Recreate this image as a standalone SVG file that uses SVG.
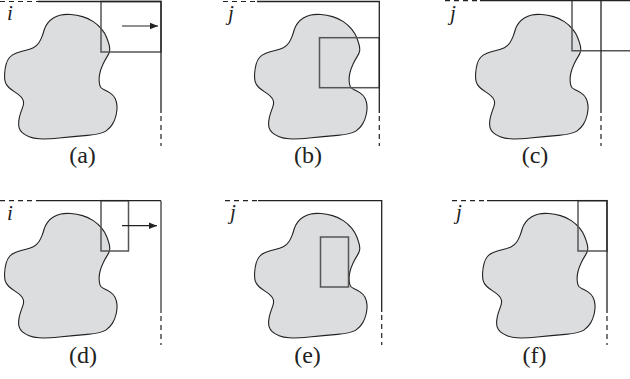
<svg xmlns="http://www.w3.org/2000/svg" xmlns:xlink="http://www.w3.org/1999/xlink" width="630" height="379" viewBox="0 0 630 379">
<style>
.blob{fill:#dcdddf;stroke:#222;stroke-width:1.1}
.frame{fill:none;stroke:#222;stroke-width:1.3}
.dash{fill:none;stroke:#222;stroke-width:1.2;stroke-dasharray:5 4}
.box{fill:none;stroke:#555;stroke-width:1.5}
.arrow{stroke:#222;stroke-width:1.2;fill:none;marker-end:url(#ah)}
text{font-family:'Liberation Serif', 'DejaVu Serif', serif;fill:#222}
.var{font-style:italic;font-size:21px}
.cap{font-size:24px;text-anchor:middle}
</style>
<defs>
<marker id="ah" markerWidth="9" markerHeight="8" refX="8.5" refY="4" orient="auto" markerUnits="userSpaceOnUse">
<path d="M0,0.5 L8.5,4 L0,7.5 Z" fill="#222"/>
</marker>
<path id="blob" class="blob" d="M44.15,30 Q45,26.7 47.5,23.35 Q50,20 53.35,18 Q56.7,16 60.85,15 Q65,14 70.85,14.5 Q76.7,15 82.5,16.65 Q88.3,18.3 93.3,21.65 Q98.3,25 101.65,29.15 Q105,33.3 106.65,37.5 Q108.3,41.7 109.15,45 Q110,48.3 109.65,50.8 Q109.3,53.3 107.15,56.65 Q105,60 103,64.15 Q101,68.3 100,72.5 Q99,76.7 99.1,80 Q99.2,83.3 99.95,85.8 Q100.7,88.3 103.7,89.5 Q106.7,90.7 110,92.85 Q113.3,95 115,98.35 Q116.7,101.7 117,105.85 Q117.3,110 116.15,115 Q115,120 112.5,124.15 Q110,128.3 105.85,131.15 Q101.7,134 87.5,135.4 Q73.3,136.8 59.15,138.05 Q45,139.3 39.15,138.8 Q33.3,138.3 29.15,136.65 Q25,135 22.5,132.85 Q20,130.7 19.15,127.85 Q18.3,125 18.8,120.85 Q19.3,116.7 20.5,113.35 Q21.7,110 22.85,106.65 Q24,103.3 23.35,100.8 Q22.7,98.3 20.5,96.3 Q18.3,94.3 15,92.15 Q11.7,90 8.85,87.5 Q6,85 5.15,81.65 Q4.3,78.3 4.65,73.3 Q5,68.3 6.15,64.15 Q7.3,60 9.5,57.5 Q11.7,55 15.85,53.35 Q20,51.7 25,50.5 Q30,49.3 33.35,47.65 Q36.7,46 38.7,43 Q40.7,40 42,36.65 Q43.3,33.3 44.15,30 Z"/>
</defs>

<g id="panel-a">
<use xlink:href="#blob" href="#blob"/>
<rect class="box" x="101" y="1.5" width="60" height="50.5"/>
<line class="dash" x1="0" y1="1.5" x2="38" y2="1.5"/>
<polyline class="frame" points="38,1.5 161,1.5 161,113"/>
<line class="dash" x1="161" y1="116" x2="161" y2="146"/>
<text class="var" x="7" y="20">i</text>
<text class="cap" x="82.5" y="163">(a)</text>
</g>

<g id="panel-b">
<use xlink:href="#blob" href="#blob" transform="translate(250,0)"/>
<rect class="box" x="319.5" y="37.7" width="59.8" height="50"/>
<line class="dash" x1="223" y1="1.5" x2="257" y2="1.5"/>
<polyline class="frame" points="257,1.5 379.3,1.5 379.3,113"/>
<line class="dash" x1="379.3" y1="116" x2="379.3" y2="146"/>
<text class="var" x="228" y="20">j</text>
<text class="cap" x="308" y="163">(b)</text>
</g>

<g id="panel-c">
<use xlink:href="#blob" href="#blob" transform="translate(471,0)"/>
<polyline class="box" points="572,0 572,50.7 630,50.7"/>
<line class="dash" x1="445" y1="0.7" x2="480" y2="0.7"/>
<polyline class="frame" points="480,0.7 630,0.7"/>
<line class="frame" x1="601" y1="0" x2="601" y2="113"/>
<line class="dash" x1="601" y1="116" x2="601" y2="146"/>
<text class="var" x="450" y="20">j</text>
<text class="cap" x="535" y="163">(c)</text>
</g>

<g id="panel-d">
<use xlink:href="#blob" href="#blob" transform="translate(0,199)"/>
<rect class="box" x="101" y="200.7" width="27.5" height="50.3"/>
<line class="dash" x1="0" y1="200.7" x2="38" y2="200.7"/>
<polyline class="frame" points="38,200.7 161,200.7"/>
<line class="box" x1="161" y1="200.7" x2="161" y2="313"/>
<line class="dash" x1="161" y1="316" x2="161" y2="345"/>
<text class="var" x="7" y="220">i</text>
<text class="cap" x="83" y="362.5">(d)</text>
</g>

<g id="panel-e">
<use xlink:href="#blob" href="#blob" transform="translate(250,199)"/>
<rect class="box" x="320.5" y="237" width="28" height="50"/>
<line class="dash" x1="225" y1="200.7" x2="258" y2="200.7"/>
<polyline class="frame" points="258,200.7 381.7,200.7 381.7,312"/>
<line class="dash" x1="381.7" y1="315" x2="381.7" y2="345"/>
<text class="var" x="230" y="219">j</text>
<text class="cap" x="307.5" y="362.5">(e)</text>
</g>

<g id="panel-f">
<use xlink:href="#blob" href="#blob" transform="translate(478,199)"/>
<rect class="box" x="578" y="200.7" width="29" height="50.3"/>
<line class="dash" x1="452" y1="200.7" x2="487" y2="200.7"/>
<polyline class="frame" points="487,200.7 607,200.7 607,313"/>
<line class="dash" x1="607" y1="316" x2="607" y2="345"/>
<text class="var" x="456" y="219">j</text>
<text class="cap" x="534.5" y="362.5">(f)</text>
</g>

<g id="connectors">
<line class="arrow" x1="122" y1="26" x2="158" y2="26"/>
<line class="arrow" x1="122" y1="225.7" x2="157" y2="225.7"/>
</g>
</svg>
